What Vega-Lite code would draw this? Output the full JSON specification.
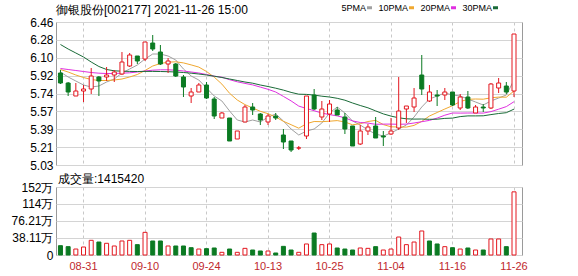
{
  "$schema": "https://vega.github.io/schema/vega-lite/v6.json",
  "background": "white",
  "padding": {"left": 10, "top": 3, "right": 5, "bottom": 2},
  "spacing": 22,
  "bounds": "flush",
  "config": {
    "view": {"stroke": "#9a9a9a", "strokeWidth": 1},
    "font": "Liberation Sans",
    "axis": {"labelFont": "Liberation Sans", "titleFont": "Liberation Sans"},
    "axisY": {
      "labelFontSize": 12, "labelColor": "#000", "labelPadding": 3, "labelOverlap": false, "labelFlush": false,
      "ticks": false, "tickSize": 0, "domain": false, "grid": true, "gridColor": "#d4d4d4",
      "titleAngle": 0, "titleAlign": "left", "titleBaseline": "alphabetic",
      "titleFontSize": 12, "titleFontWeight": "normal", "titleColor": "#000"
    }
  },
  "datasets": {
    "k": [
      {"d":"08-26","o":5.95,"h":5.98,"l":5.84,"c":5.85,"v":209000,"vc":"g","5PMA":5.96,"10PMA":5.985,"20PMA":5.995,"30PMA":6.235},
      {"d":"08-27","o":5.85,"h":5.86,"l":5.72,"c":5.76,"v":187000,"vc":"g","5PMA":5.91,"10PMA":5.96,"20PMA":5.985,"30PMA":6.19},
      {"d":"08-30","o":5.72,"h":5.85,"l":5.72,"c":5.77,"v":134000,"vc":"r","5PMA":5.87,"10PMA":5.93,"20PMA":5.975,"30PMA":6.15},
      {"d":"08-31","o":5.77,"h":5.83,"l":5.66,"c":5.79,"v":179000,"vc":"r","5PMA":5.83,"10PMA":5.905,"20PMA":5.965,"30PMA":6.11},
      {"d":"09-01","o":5.79,"h":6.00,"l":5.74,"c":5.92,"v":329000,"vc":"r","5PMA":5.81,"10PMA":5.885,"20PMA":5.955,"30PMA":6.06},
      {"d":"09-02","o":5.91,"h":5.92,"l":5.72,"c":5.87,"v":291000,"vc":"g","5PMA":5.82,"10PMA":5.875,"20PMA":5.948,"30PMA":6.015},
      {"d":"09-03","o":5.91,"h":6.01,"l":5.87,"c":5.93,"v":262000,"vc":"r","5PMA":5.86,"10PMA":5.875,"20PMA":5.945,"30PMA":5.985},
      {"d":"09-06","o":5.93,"h":5.98,"l":5.86,"c":5.96,"v":202000,"vc":"r","5PMA":5.89,"10PMA":5.88,"20PMA":5.945,"30PMA":5.972},
      {"d":"09-07","o":5.94,"h":6.16,"l":5.93,"c":6.06,"v":314000,"vc":"r","5PMA":5.95,"10PMA":5.89,"20PMA":5.948,"30PMA":5.968},
      {"d":"09-08","o":6.02,"h":6.15,"l":6.01,"c":6.13,"v":329000,"vc":"r","5PMA":5.99,"10PMA":5.91,"20PMA":5.952,"30PMA":5.966},
      {"d":"09-09","o":6.12,"h":6.12,"l":6.04,"c":6.07,"v":232000,"vc":"g","5PMA":6.03,"10PMA":5.935,"20PMA":5.96,"30PMA":5.965},
      {"d":"09-10","o":6.09,"h":6.26,"l":6.07,"c":6.26,"v":508000,"vc":"r","5PMA":6.09,"10PMA":5.975,"20PMA":5.97,"30PMA":5.966},
      {"d":"09-13","o":6.25,"h":6.33,"l":6.17,"c":6.19,"v":314000,"vc":"g","5PMA":6.14,"10PMA":6.02,"20PMA":5.978,"30PMA":5.966},
      {"d":"09-14","o":6.16,"h":6.23,"l":6.03,"c":6.04,"v":314000,"vc":"g","5PMA":6.14,"10PMA":6.045,"20PMA":5.982,"30PMA":5.965},
      {"d":"09-15","o":6.04,"h":6.10,"l":5.95,"c":6.07,"v":202000,"vc":"r","5PMA":6.12,"10PMA":6.058,"20PMA":5.982,"30PMA":5.963},
      {"d":"09-16","o":6.04,"h":6.05,"l":5.91,"c":5.92,"v":202000,"vc":"g","5PMA":6.08,"10PMA":6.062,"20PMA":5.978,"30PMA":5.96},
      {"d":"09-17","o":5.91,"h":5.93,"l":5.71,"c":5.81,"v":202000,"vc":"g","5PMA":5.99,"10PMA":6.051,"20PMA":5.97,"30PMA":5.955},
      {"d":"09-22","o":5.72,"h":5.80,"l":5.65,"c":5.76,"v":164000,"vc":"g","5PMA":5.92,"10PMA":6.031,"20PMA":5.96,"30PMA":5.948},
      {"d":"09-23","o":5.76,"h":5.85,"l":5.76,"c":5.83,"v":134000,"vc":"r","5PMA":5.88,"10PMA":6.009,"20PMA":5.95,"30PMA":5.94},
      {"d":"09-24","o":5.83,"h":5.86,"l":5.69,"c":5.70,"v":142000,"vc":"g","5PMA":5.80,"10PMA":5.965,"20PMA":5.935,"30PMA":5.93},
      {"d":"09-27","o":5.69,"h":5.71,"l":5.49,"c":5.52,"v":157000,"vc":"g","5PMA":5.72,"10PMA":5.909,"20PMA":5.918,"30PMA":5.918},
      {"d":"09-28","o":5.50,"h":5.56,"l":5.50,"c":5.55,"v":60000,"vc":"r","5PMA":5.67,"10PMA":5.839,"20PMA":5.908,"30PMA":5.905},
      {"d":"09-29","o":5.50,"h":5.50,"l":5.27,"c":5.27,"v":134000,"vc":"g","5PMA":5.57,"10PMA":5.747,"20PMA":5.883,"30PMA":5.89},
      {"d":"09-30","o":5.29,"h":5.37,"l":5.29,"c":5.37,"v":60000,"vc":"r","5PMA":5.48,"10PMA":5.68,"20PMA":5.862,"30PMA":5.875},
      {"d":"10-08","o":5.46,"h":5.63,"l":5.46,"c":5.61,"v":149000,"vc":"r","5PMA":5.46,"10PMA":5.634,"20PMA":5.846,"30PMA":5.86},
      {"d":"10-11","o":5.61,"h":5.65,"l":5.53,"c":5.58,"v":112000,"vc":"g","5PMA":5.48,"10PMA":5.60,"20PMA":5.831,"30PMA":5.848},
      {"d":"10-12","o":5.54,"h":5.55,"l":5.43,"c":5.48,"v":90000,"vc":"g","5PMA":5.46,"10PMA":5.567,"20PMA":5.809,"30PMA":5.83},
      {"d":"10-13","o":5.46,"h":5.54,"l":5.43,"c":5.52,"v":90000,"vc":"r","5PMA":5.51,"10PMA":5.543,"20PMA":5.787,"30PMA":5.815},
      {"d":"10-14","o":5.52,"h":5.55,"l":5.48,"c":5.50,"v":45000,"vc":"g","5PMA":5.54,"10PMA":5.51,"20PMA":5.76,"30PMA":5.798},
      {"d":"10-15","o":5.33,"h":5.39,"l":5.19,"c":5.26,"v":194000,"vc":"g","5PMA":5.47,"10PMA":5.467,"20PMA":5.716,"30PMA":5.779},
      {"d":"10-18","o":5.27,"h":5.27,"l":5.16,"c":5.18,"v":112000,"vc":"g","5PMA":5.39,"10PMA":5.433,"20PMA":5.671,"30PMA":5.756},
      {"d":"10-19","o":5.20,"h":5.22,"l":5.18,"c":5.20,"v":60000,"vc":"r","5PMA":5.33,"10PMA":5.398,"20PMA":5.619,"30PMA":5.738},
      {"d":"10-20","o":5.32,"h":5.72,"l":5.29,"c":5.72,"v":247000,"vc":"r","5PMA":5.37,"10PMA":5.443,"20PMA":5.595,"30PMA":5.736},
      {"d":"10-21","o":5.73,"h":5.79,"l":5.58,"c":5.59,"v":493000,"vc":"g","5PMA":5.39,"10PMA":5.465,"20PMA":5.573,"30PMA":5.729},
      {"d":"10-22","o":5.51,"h":5.67,"l":5.48,"c":5.59,"v":232000,"vc":"r","5PMA":5.45,"10PMA":5.463,"20PMA":5.549,"30PMA":5.718},
      {"d":"10-25","o":5.54,"h":5.68,"l":5.46,"c":5.64,"v":247000,"vc":"r","5PMA":5.55,"10PMA":5.468,"20PMA":5.534,"30PMA":5.71},
      {"d":"10-26","o":5.58,"h":5.61,"l":5.53,"c":5.53,"v":157000,"vc":"g","5PMA":5.61,"10PMA":5.474,"20PMA":5.521,"30PMA":5.697},
      {"d":"10-27","o":5.51,"h":5.55,"l":5.34,"c":5.39,"v":134000,"vc":"g","5PMA":5.55,"10PMA":5.46,"20PMA":5.502,"30PMA":5.678},
      {"d":"10-28","o":5.42,"h":5.42,"l":5.22,"c":5.22,"v":112000,"vc":"g","5PMA":5.47,"10PMA":5.432,"20PMA":5.471,"30PMA":5.65},
      {"d":"10-29","o":5.24,"h":5.43,"l":5.23,"c":5.37,"v":157000,"vc":"r","5PMA":5.43,"10PMA":5.443,"20PMA":5.455,"30PMA":5.625},
      {"d":"11-01","o":5.37,"h":5.44,"l":5.33,"c":5.41,"v":149000,"vc":"r","5PMA":5.38,"10PMA":5.465,"20PMA":5.449,"30PMA":5.602},
      {"d":"11-02","o":5.42,"h":5.51,"l":5.30,"c":5.30,"v":187000,"vc":"g","5PMA":5.34,"10PMA":5.476,"20PMA":5.437,"30PMA":5.571},
      {"d":"11-03","o":5.32,"h":5.37,"l":5.22,"c":5.31,"v":112000,"vc":"r","5PMA":5.32,"10PMA":5.434,"20PMA":5.439,"30PMA":5.541},
      {"d":"11-04","o":5.34,"h":5.50,"l":5.33,"c":5.37,"v":134000,"vc":"r","5PMA":5.35,"10PMA":5.412,"20PMA":5.439,"30PMA":5.519},
      {"d":"11-05","o":5.40,"h":5.91,"l":5.38,"c":5.57,"v":403000,"vc":"r","5PMA":5.39,"10PMA":5.41,"20PMA":5.437,"30PMA":5.502},
      {"d":"11-08","o":5.59,"h":5.62,"l":5.45,"c":5.62,"v":232000,"vc":"r","5PMA":5.43,"10PMA":5.409,"20PMA":5.439,"30PMA":5.492},
      {"d":"11-09","o":5.61,"h":5.80,"l":5.56,"c":5.70,"v":291000,"vc":"r","5PMA":5.51,"10PMA":5.426,"20PMA":5.45,"30PMA":5.489},
      {"d":"11-10","o":5.93,"h":6.13,"l":5.73,"c":5.79,"v":538000,"vc":"r","5PMA":5.61,"10PMA":5.466,"20PMA":5.463,"30PMA":5.49},
      {"d":"11-11","o":5.67,"h":5.83,"l":5.66,"c":5.76,"v":314000,"vc":"g","5PMA":5.69,"10PMA":5.52,"20PMA":5.476,"30PMA":5.487},
      {"d":"11-12","o":5.73,"h":5.78,"l":5.62,"c":5.72,"v":247000,"vc":"g","5PMA":5.72,"10PMA":5.555,"20PMA":5.499,"30PMA":5.488},
      {"d":"11-15","o":5.73,"h":5.80,"l":5.68,"c":5.76,"v":187000,"vc":"r","5PMA":5.75,"10PMA":5.59,"20PMA":5.528,"30PMA":5.496},
      {"d":"11-16","o":5.76,"h":5.76,"l":5.62,"c":5.63,"v":164000,"vc":"g","5PMA":5.73,"10PMA":5.623,"20PMA":5.55,"30PMA":5.499},
      {"d":"11-17","o":5.60,"h":5.74,"l":5.58,"c":5.71,"v":134000,"vc":"r","5PMA":5.72,"10PMA":5.664,"20PMA":5.549,"30PMA":5.514},
      {"d":"11-18","o":5.71,"h":5.77,"l":5.59,"c":5.60,"v":157000,"vc":"g","5PMA":5.69,"10PMA":5.687,"20PMA":5.55,"30PMA":5.521},
      {"d":"11-19","o":5.55,"h":5.63,"l":5.55,"c":5.61,"v":112000,"vc":"r","5PMA":5.66,"10PMA":5.69,"20PMA":5.55,"30PMA":5.521},
      {"d":"11-22","o":5.61,"h":5.64,"l":5.56,"c":5.60,"v":112000,"vc":"g","5PMA":5.63,"10PMA":5.688,"20PMA":5.549,"30PMA":5.522},
      {"d":"11-23","o":5.60,"h":5.85,"l":5.59,"c":5.84,"v":359000,"vc":"r","5PMA":5.67,"10PMA":5.702,"20PMA":5.564,"30PMA":5.534},
      {"d":"11-24","o":5.80,"h":5.90,"l":5.75,"c":5.85,"v":359000,"vc":"r","5PMA":5.70,"10PMA":5.709,"20PMA":5.588,"30PMA":5.545},
      {"d":"11-25","o":5.82,"h":5.86,"l":5.74,"c":5.76,"v":187000,"vc":"g","5PMA":5.73,"10PMA":5.708,"20PMA":5.614,"30PMA":5.553},
      {"d":"11-26","o":5.77,"h":6.34,"l":5.71,"c":6.34,"v":1415420,"vc":"r","5PMA":5.88,"10PMA":5.77,"20PMA":5.663,"30PMA":5.589}
    ]
  },
  "vconcat": [
    {
      "width": 466,
      "height": 143,
      "data": {"name": "k"},
      "title": {
        "text": "御银股份[002177] 2021-11-26 15:00",
        "anchor": "start", "frame": "group", "orient": "top",
        "font": "Liberation Sans", "fontSize": 12, "fontWeight": "normal", "color": "#000",
        "baseline": "alphabetic", "offset": -9.5
      },
      "encoding": {
        "x": {
          "field": "d", "type": "ordinal",
          "scale": {"type": "band", "paddingInner": 0, "paddingOuter": 0.31, "align": 0.13},
          "axis": {
            "values": ["08-31","09-10","09-24","10-13","10-25","11-04","11-16","11-26"],
            "labels": false, "ticks": false, "domain": false, "title": null,
            "grid": true, "gridDash": [3, 3], "gridColor": "#c8c8c8", "bandPosition": 0.5
          }
        }
      },
      "layer": [
        {
          "transform": [{"fold": ["5PMA","10PMA","20PMA","30PMA"], "as": ["s","val"]}],
          "mark": {"type": "line", "strokeWidth": 1},
          "encoding": {
            "y": {
              "field": "val", "type": "quantitative",
              "scale": {"domain": [5.03, 6.46], "zero": false, "nice": false},
              "axis": {
                "values": [5.03, 5.20875, 5.3875, 5.56625, 5.7449, 5.92375, 6.1024, 6.28125, 6.46],
                "format": ".2f", "title": null
              }
            },
            "color": {
              "field": "s", "type": "nominal",
              "scale": {"domain": ["5PMA","10PMA","20PMA","30PMA"], "range": ["#a0a0a0","#f0a830","#e030e0","#1a6b38"]},
              "legend": {
                "orient": "none", "legendX": 309, "legendY": -19, "direction": "horizontal", "title": null,
                "symbolType": "stroke", "symbolSize": 25, "symbolStrokeWidth": 3,
                "labelFont": "Liberation Sans", "labelFontSize": 9, "labelColor": "#000",
                "labelAlign": "right", "labelOffset": -8, "columnPadding": 0, "padding": 0
              }
            }
          }
        },
        {
          "mark": {"type": "rule", "strokeWidth": 1},
          "encoding": {
            "y": {
              "field": "l", "type": "quantitative",
              "scale": {"domain": [5.03, 6.46], "zero": false, "nice": false},
              "axis": {
                "values": [5.03, 5.20875, 5.3875, 5.56625, 5.7449, 5.92375, 6.1024, 6.28125, 6.46],
                "format": ".2f", "title": null
              }
            },
            "y2": {"field": "h"},
            "color": {"condition": {"test": "datum.c >= datum.o", "value": "#e3171f"}, "value": "#0b7a22"}
          }
        },
        {
          "mark": {"type": "bar", "size": 4, "strokeWidth": 1},
          "encoding": {
            "y": {
              "field": "o", "type": "quantitative",
              "scale": {"domain": [5.03, 6.46], "zero": false, "nice": false},
              "axis": {
                "values": [5.03, 5.20875, 5.3875, 5.56625, 5.7449, 5.92375, 6.1024, 6.28125, 6.46],
                "format": ".2f", "title": null
              }
            },
            "y2": {"field": "c"},
            "fill": {"condition": {"test": "datum.c >= datum.o", "value": "#ffffff"}, "value": "#0b7a22"},
            "stroke": {"condition": {"test": "datum.c >= datum.o", "value": "#e3171f"}, "value": "#0b7a22"}
          }
        }
      ]
    },
    {
      "width": 466,
      "height": 68,
      "data": {"name": "k"},
      "mark": {"type": "bar", "size": 4, "strokeWidth": 1},
      "encoding": {
        "x": {
          "field": "d", "type": "ordinal",
          "scale": {"type": "band", "paddingInner": 0, "paddingOuter": 0.31, "align": 0.13},
          "axis": {
            "values": ["08-31","09-10","09-24","10-13","10-25","11-04","11-16","11-26"],
            "labelAngle": 0, "labelFontSize": 11, "labelColor": "#c0282d", "labelPadding": 5,
            "ticks": false, "tickSize": 0, "domain": false, "title": null,
            "grid": true, "gridDash": [3, 3], "gridColor": "#c8c8c8", "bandPosition": 0.5
          }
        },
        "y": {
          "field": "v", "type": "quantitative",
          "scale": {"domain": [0, 1524200], "nice": false},
          "axis": {
            "values": [0, 381052, 762102, 1143152, 1524200],
            "labelExpr": "datum.value == 0 ? '0' : (datum.value >= 1000000 ? format(datum.value / 10000, '.0f') : format(datum.value / 10000, '.2f')) + '万'",
            "title": "成交量:1415420",
            "titleX": 1.5, "titleY": -4.5
          }
        },
        "fill": {"condition": {"test": "datum.vc == 'r'", "value": "#ffffff"}, "value": "#0b7a22"},
        "stroke": {"condition": {"test": "datum.vc == 'r'", "value": "#e3171f"}, "value": "#0b7a22"}
      }
    }
  ]
}
